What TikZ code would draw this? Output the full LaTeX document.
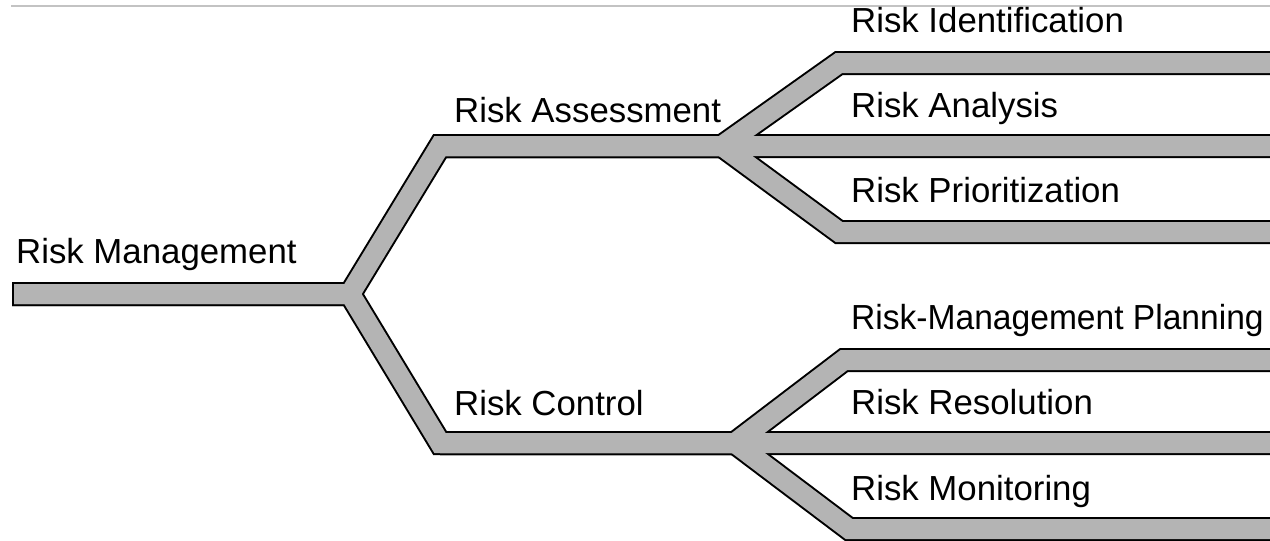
\documentclass[tikz,border=0pt]{standalone}
\usepackage{fontspec}
\setmainfont{Liberation Sans}
\definecolor{barfill}{RGB}{180,180,180}
\definecolor{rulegray}{RGB}{195,195,195}
\begin{document}
\begin{tikzpicture}[x=1pt,y=-1pt,
  barout/.style={draw=black,line width=24pt,line join=miter,line cap=butt},
  barin/.style={draw=barfill,line width=20pt,line join=miter,line cap=butt},
  lbl/.style={anchor=base west,inner sep=0pt,font=\fontsize{34.8}{40}\selectfont}]
\useasboundingbox (0,0) rectangle (1270,541);
\clip (0,0) rectangle (1270,541);
% top rule
\coordinate (r1) at (11,6);
\coordinate (r2) at (1275,6);
\draw[rulegray,line width=1.5pt] (r1) -- (r2);
% coordinates
\coordinate (m0) at (12,294);
\coordinate (m0i) at (14,294);
\coordinate (mj) at (350,294);
\coordinate (ac) at (440,146);
\coordinate (ae) at (1300,146);
\coordinate (cc) at (440,443);
\coordinate (ce) at (1300,443);
\coordinate (aj) at (722,146);
\coordinate (ic) at (839,63);
\coordinate (ie) at (1300,63);
\coordinate (pc) at (839,232);
\coordinate (pe) at (1300,232);
\coordinate (cj) at (735,443);
\coordinate (plc) at (844,360);
\coordinate (ple) at (1300,360);
\coordinate (moc) at (849,529);
\coordinate (moe) at (1300,529);
% black outlines
\draw[barout] (m0) -- (mj) -- (ac) -- (ae);
\draw[barout] (m0) -- (mj) -- (cc) -- (ce);
\draw[barout] (ac) -- (aj) -- (ic) -- (ie);
\draw[barout] (ac) -- (aj) -- (pc) -- (pe);
\draw[barout] (cc) -- (cj) -- (plc) -- (ple);
\draw[barout] (cc) -- (cj) -- (moc) -- (moe);
% gray fills
\draw[barin] (m0i) -- (mj) -- (ac) -- (ae);
\draw[barin] (m0i) -- (mj) -- (cc) -- (ce);
\draw[barin] (ac) -- (aj) -- (ic) -- (ie);
\draw[barin] (ac) -- (aj) -- (pc) -- (pe);
\draw[barin] (cc) -- (cj) -- (plc) -- (ple);
\draw[barin] (cc) -- (cj) -- (moc) -- (moe);
% labels
\node[lbl] (rm) at (16,263) {Risk Management};
\node[lbl] (ra) at (454,122) {Risk Assessment};
\node[lbl] (rc) at (454,415) {Risk Control};
\node[lbl] (ri) at (851,32) {Risk Identification};
\node[lbl] (ran) at (851,117) {Risk Analysis};
\node[lbl] (rp) at (851,202) {Risk Prioritization};
\node[lbl] (rmp) at (851,329) {\scalebox{0.965}[1]{Risk-Management Planning}};
\node[lbl] (rr) at (851,414) {Risk Resolution};
\node[lbl] (rmo) at (851,500) {Risk Monitoring};
\end{tikzpicture}
\end{document}
